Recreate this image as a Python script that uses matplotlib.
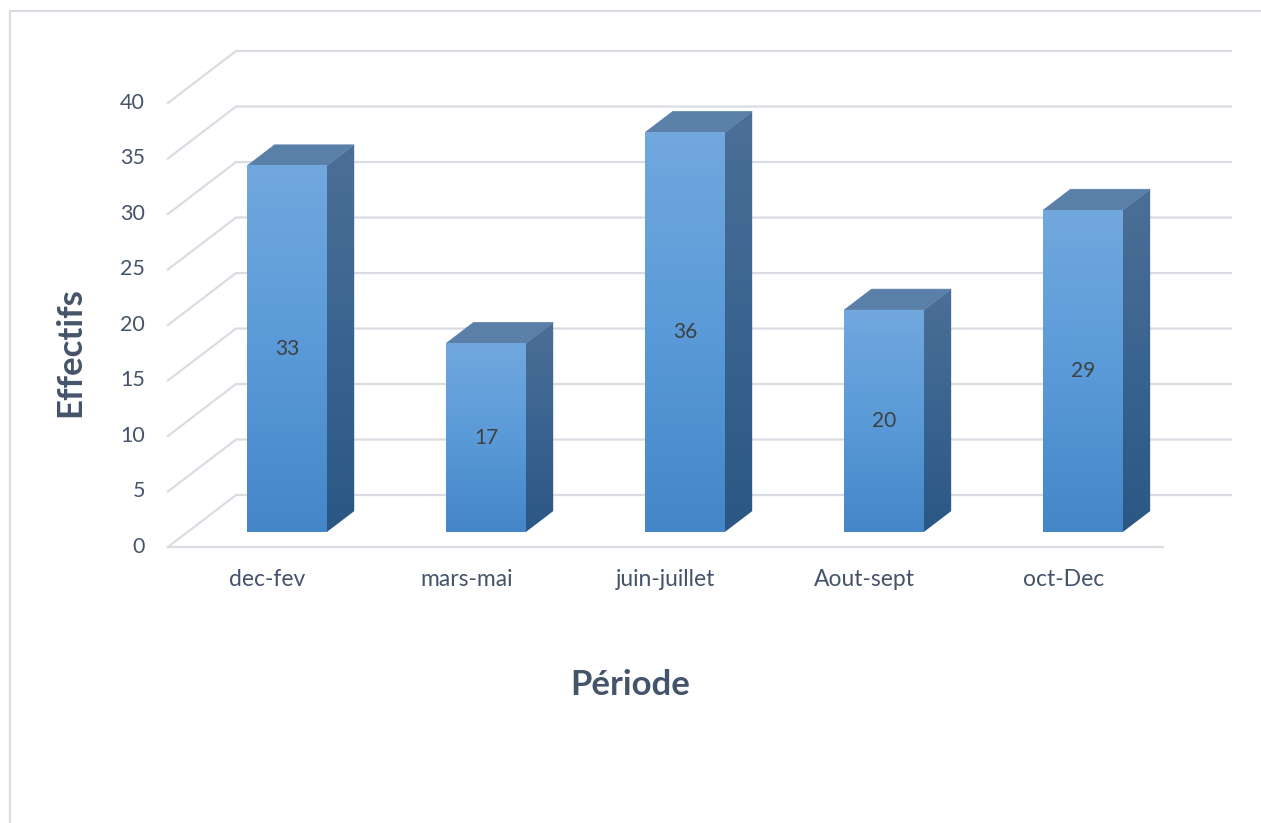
import numpy as np
import matplotlib
matplotlib.use('Agg')
import matplotlib.pyplot as plt
from matplotlib.patches import Polygon
from matplotlib.colors import LinearSegmentedColormap

# --- Données ---
periodes = ['dec-fev', 'mars-mai', 'juin-juillet', 'Aout-sept', 'oct-Dec']
effectifs = [33, 17, 36, 20, 29]
y_ticks = [0, 5, 10, 15, 20, 25, 30, 35, 40]

# --- Projection oblique (profondeur -> décalage en x et en y) ---
DX = 0.342   # décalage horizontal pour toute la profondeur (en catégories)
DY = 4.68    # décalage vertical pour toute la profondeur (en unités)
D0, D1 = 0.29, 0.69   # profondeur occupée par les barres
HALF_W = 0.20

TXT = '#44546A'
GRID = '#D9DDE3'
FONT = 'Lato'
XLIM = (-1.344, 4.993)
YLIM = (-24.87, 49.28)

fig = plt.figure(figsize=(12.61, 8.23), dpi=100)
ax = fig.add_axes([0, 0, 1, 1])
ax.axis('off')

# cadre du graphique
fig.add_artist(plt.Rectangle((10 / 1261, -0.01), 1.1, (823 - 11) / 823 + 0.01,
                             transform=fig.transFigure, fill=False,
                             edgecolor='#D9DDE3', linewidth=1.5))

n = len(periodes)
x0, x1 = -0.5, n - 0.5

# quadrillage : paroi gauche + paroi du fond
for v in y_ticks:
    ax.plot([x0, x0 + DX, x1 + DX], [v, v + DY, v + DY], color=GRID, lw=1.6,
            zorder=1, solid_joinstyle='miter')
    ax.text(x0 - 0.115, v, str(v), ha='right', va='center', fontsize=15.5,
            color=TXT, family=FONT)
ax.plot([x0, x1], [0, 0], color=GRID, lw=1.6, zorder=1)

# dégradés
front_cmap = LinearSegmentedColormap.from_list('f', ['#4486C8', '#5A9AD8', '#71A8DE'])
side_cmap = LinearSegmentedColormap.from_list('s', ['#2B5784', '#3A6490', '#4C6F96'])
grad = np.linspace(0, 1, 256).reshape(-1, 1)


def pt(x, v, d):
    return (x + DX * d, v + DY * d)


for i, (lab, val) in enumerate(zip(periodes, effectifs)):
    xl, xr = i - HALF_W, i + HALF_W
    # face avant
    fl, fb = pt(xl, 0, D0)
    fr, ft = pt(xr, val, D0)
    ax.imshow(grad, cmap=front_cmap, origin='lower', aspect='auto',
              extent=(fl, fr, fb, ft), zorder=3)
    # face droite
    side = [pt(xr, 0, D0), pt(xr, 0, D1), pt(xr, val, D1), pt(xr, val, D0)]
    sp = Polygon(side, closed=True, facecolor='none', edgecolor='none', zorder=2)
    ax.add_patch(sp)
    sx = [p[0] for p in side]
    sy = [p[1] for p in side]
    im = ax.imshow(grad, cmap=side_cmap, origin='lower', aspect='auto',
                   extent=(min(sx), max(sx), min(sy), max(sy)), zorder=2)
    im.set_clip_path(sp)
    # face supérieure
    top = [pt(xl, val, D0), pt(xr, val, D0), pt(xr, val, D1), pt(xl, val, D1)]
    ax.add_patch(Polygon(top, closed=True, facecolor='#5A7FA8',
                         edgecolor='#5A7FA8', lw=0.5, zorder=2))
    # étiquette de valeur
    ax.text((fl + fr) / 2, (fb + ft) / 2, str(val), ha='center', va='center',
            fontsize=15, color='#404040', family=FONT, zorder=4)
    # étiquette de catégorie
    ax.text(i, -2.9, lab, ha='center', va='center', fontsize=16.5, color=TXT,
            family=FONT)

ax.set_xlim(*XLIM)
ax.set_ylim(*YLIM)

fig.text(630 / 1261, 1 - 685 / 823, 'Période', ha='center', va='center',
         fontsize=25, fontweight='bold', color=TXT, family=FONT)
fig.text(70 / 1261, 1 - 352 / 823, 'Effectifs', ha='center', va='center',
         rotation=90, fontsize=25, fontweight='bold', color=TXT, family=FONT)

fig.savefig('out.png', dpi=100)
